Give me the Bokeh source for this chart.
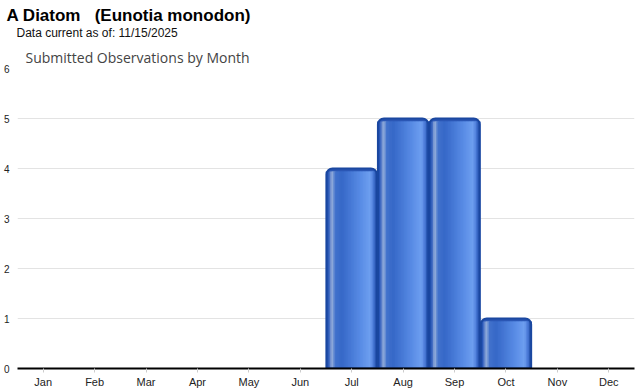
from bokeh.plotting import figure
from bokeh.models import ColumnDataSource, Title, FixedTicker
from bokeh.transform import dodge
from bokeh.embed import file_html
from bokeh.resources import INLINE

months = ["Jan", "Feb", "Mar", "Apr", "May", "Jun", "Jul", "Aug", "Sep", "Oct", "Nov", "Dec"]
counts = [0, 0, 0, 0, 0, 0, 4, 5, 5, 1, 0, 0]
y_ticks = [0, 1, 2, 3, 4, 5, 6]

main_title = "A Diatom\u00a0\u00a0 (Eunotia monodon)"
sub_title = "Data current as of: 11/15/2025"
chart_title = "Submitted Observations by Month"

nz = [(m, c) for m, c in zip(months, counts) if c > 0]
src = ColumnDataSource(dict(month=[m for m, _ in nz], count=[c for _, c in nz]))

p = figure(x_range=months, y_range=(0, 6), width=640, height=390,
           output_backend="svg", toolbar_location=None, title=None,
           min_border_left=17, min_border_right=6, min_border_top=68, min_border_bottom=0)
p.outline_line_color = None

# titles (later added -> further from plot)
p.add_layout(Title(text=chart_title, text_font="Open Sans", text_font_size="14px",
                   text_font_style="normal", text_color="#444444", offset=8, standoff=4), "above")
p.add_layout(Title(text=sub_title, text_font="Liberation Sans", text_font_size="12px",
                   text_font_style="normal", text_color="#111111", offset=-1, standoff=8), "above")
p.add_layout(Title(text=main_title, text_font="Liberation Sans", text_font_size="17px",
                   text_font_style="bold", text_color="#000000", offset=-11, standoff=-10), "above")

# gradient stops across bar width
stops = [(0.00, (0x1d, 0x4a, 0xa5)), (0.06, (0x2c, 0x5a, 0xbc)), (0.12, (0x9a, 0xb2, 0xdc)),
         (0.19, (0x42, 0x72, 0xcc)), (0.32, (0x36, 0x68, 0xc8)), (0.70, (0x5a, 0x8d, 0xe6)),
         (0.88, (0x6e, 0x9f, 0xf0)), (0.95, (0x48, 0x78, 0xd6)), (1.00, (0x1d, 0x4a, 0xa5))]

def col(t):
    for (t0, c0), (t1, c1) in zip(stops[:-1], stops[1:]):
        if t0 <= t <= t1:
            f = (t - t0) / (t1 - t0) if t1 > t0 else 0
            return "#%02x%02x%02x" % tuple(int(round(a + (b - a) * f)) for a, b in zip(c0, c1))
    return "#1d4aa5"

BW = 0.98
N = 34
sw = BW / N

# dark base (gives the darker rounded cap at the top)
p.vbar(x="month", top="count", bottom=0, width=BW, source=src, fill_color="#2a56b4",
       line_color=None, border_radius=(6, 6, 0, 0))

for i in range(N):
    t = (i + 0.5) / N
    off = -BW / 2 + (i + 0.5) * sw
    c = col(t)
    p.vbar(x=dodge("month", off, range=p.x_range), top=dodge("count", -0.06, range=p.y_range),
           bottom=0, width=sw * 2.0, source=src, fill_color=c, line_color=None)

p.vbar(x="month", top="count", bottom=0, width=BW, source=src, fill_color=None,
       line_color="#1a47a0", line_width=2, border_radius=(6, 6, 0, 0))

p.ygrid.grid_line_color = "#e3e3e3"
p.xgrid.grid_line_color = None
p.yaxis.ticker = FixedTicker(ticks=y_ticks)
p.yaxis.axis_line_color = None
p.yaxis.major_tick_line_color = None
p.yaxis.minor_tick_line_color = None
p.yaxis.major_tick_out = 0
p.yaxis.major_tick_in = 0
p.yaxis.minor_tick_out = 0
p.yaxis.major_label_standoff = 8
p.yaxis.major_label_text_font = "Liberation Sans"
p.yaxis.major_label_text_font_size = "10px"
p.yaxis.major_label_text_color = "#222222"

p.xaxis.axis_line_color = "#000000"
p.xaxis.axis_line_width = 2
p.xaxis.major_tick_in = 0
p.xaxis.major_tick_out = 4
p.xaxis.major_tick_line_color = "#cccccc"
p.xaxis.major_label_standoff = 3
p.xaxis.major_label_text_font = "Liberation Sans"
p.xaxis.major_label_text_font_size = "11px"
p.xaxis.major_label_text_color = "#222222"

open("out.html", "w").write(file_html(p, INLINE))
